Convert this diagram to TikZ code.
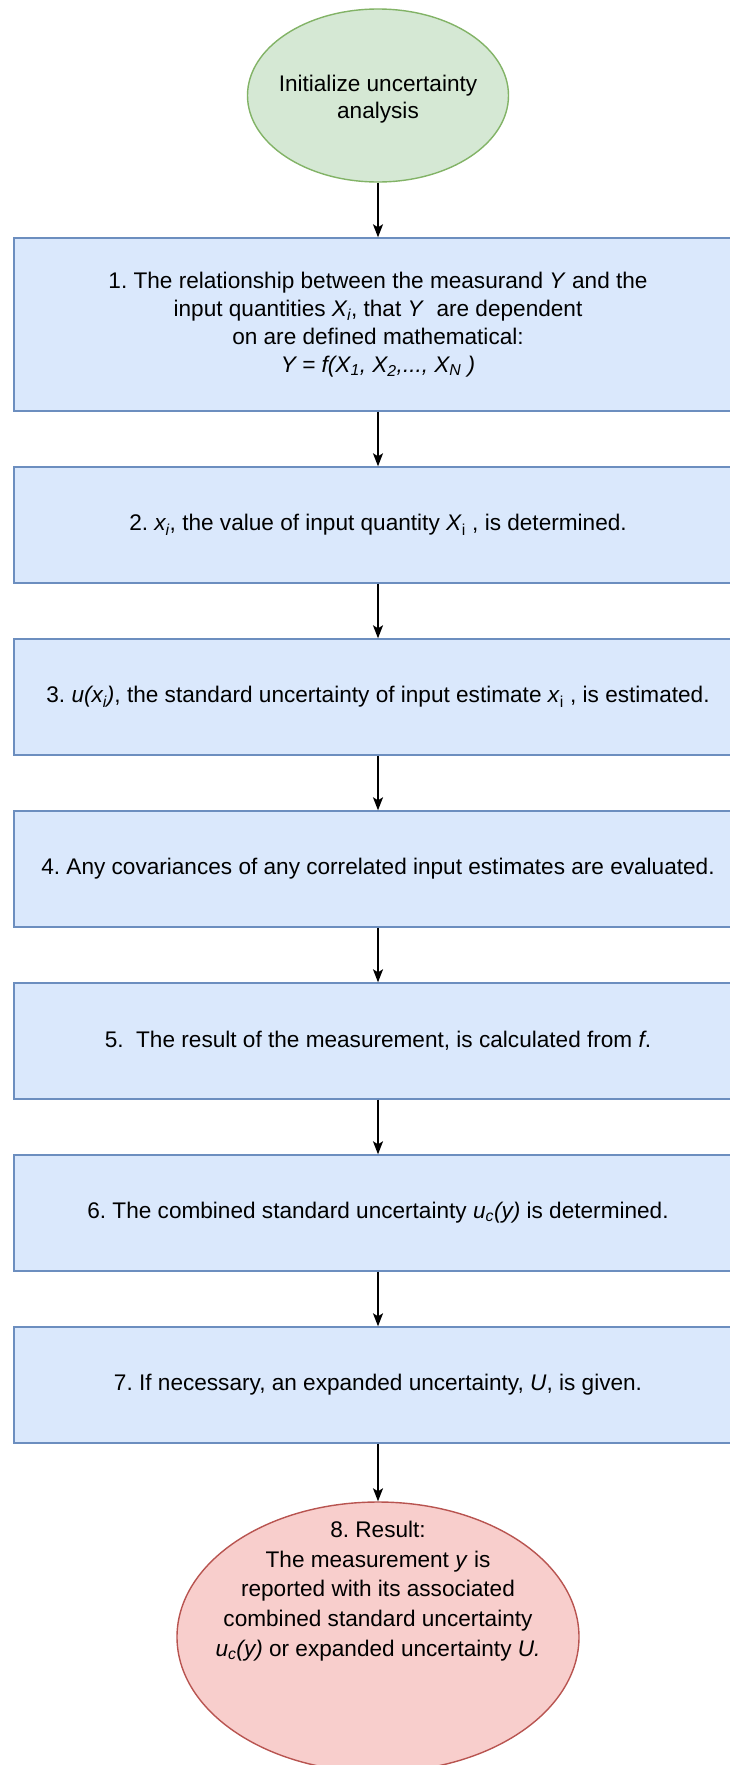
\documentclass[tikz,border=0pt]{standalone}
\usepackage{fontspec}
\setmainfont{Liberation Sans}
\usetikzlibrary{shapes.geometric,arrows.meta}
\definecolor{gfill}{HTML}{D5E8D4}
\definecolor{gline}{HTML}{82B366}
\definecolor{bfill}{HTML}{DAE8FC}
\definecolor{bline}{HTML}{6C8EBF}
\definecolor{rfill}{HTML}{F8CECC}
\definecolor{rline}{HTML}{B85450}
\newcommand\dfont{\fontsize{22.6}{27.5}\selectfont\frenchspacing}
\newcommand\efont{\fontsize{22.6}{29.8}\selectfont\frenchspacing}
\begin{document}
\begin{tikzpicture}[x=1pt,y=-1pt,
  stepbox/.style={draw=bline, fill=bfill, line width=1.4pt, minimum width=728pt, minimum height=116pt, inner sep=0pt, align=center, font=\dfont},
  startnode/.style={ellipse, draw=gline, fill=gfill, line width=1.4pt, minimum width=261pt, minimum height=173pt, inner sep=0pt},
  endnode/.style={ellipse, draw=rline, fill=rfill, line width=1.4pt, minimum width=402pt, minimum height=270pt, inner sep=0pt},
  lbl/.style={align=center, font=\efont, inner sep=0pt},
  arr/.style={-{Stealth[length=13pt,width=10pt,inset=3pt]}, line width=1.6pt, black}]
\useasboundingbox (0,0) rectangle (729,1765);
\node[startnode] (e0) at (378,95.5) {};
\node[lbl, font=\dfont] (t0) at (378,99) {Initialize uncertainty\\analysis};
\node[stepbox, minimum height=173pt] (b1) at (378,324.5) {1. The relationship between the measurand \textit{Y} and the\\input quantities \textit{X\textsubscript{i}}, that \textit{Y}\ \ are dependent\\[1pt] on are defined mathematical:\\\textit{Y = f(X\textsubscript{1}, X\textsubscript{2},..., X\textsubscript{N} )}};
\node[stepbox] (b2) at (378,525) {2. \textit{x\textsubscript{i}}, the value of input quantity \textit{X}\textsubscript{i} , is determined.};
\node[stepbox] (b3) at (378,697) {3. \textit{u(x\textsubscript{i})}, the standard uncertainty of input estimate \textit{x}\textsubscript{i} , is estimated.};
\node[stepbox] (b4) at (378,869) {4. Any covariances of any correlated input estimates are evaluated.};
\node[stepbox] (b5) at (378,1041) {5.\ \ The result of the measurement, is calculated from \textit{f}.};
\node[stepbox] (b6) at (378,1213) {6. The combined standard uncertainty \textit{u\textsubscript{c}(y)} is determined.};
\node[stepbox] (b7) at (378,1385) {7. If necessary, an expanded uncertainty, \textit{U}, is given.};
\node[endnode] (e8) at (378,1637) {};
\node[lbl] (t8) at (378,1591) {8. Result:\\The measurement \textit{y} is\\reported with its associated\\combined standard uncertainty\\\textit{u\textsubscript{c}(y)} or expanded uncertainty \textit{U.}};
\draw[arr] (e0) -- (b1);
\draw[arr] (b1) -- (b2);
\draw[arr] (b2) -- (b3);
\draw[arr] (b3) -- (b4);
\draw[arr] (b4) -- (b5);
\draw[arr] (b5) -- (b6);
\draw[arr] (b6) -- (b7);
\draw[arr] (b7) -- (e8);
\end{tikzpicture}
\end{document}
